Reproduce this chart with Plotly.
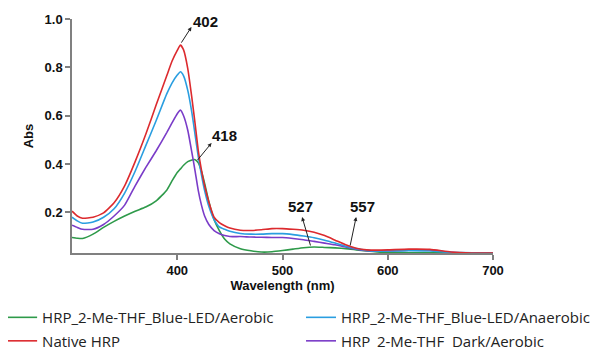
import plotly.graph_objects as go

wavelength = [300, 305, 310, 320, 330, 340, 350, 360, 370, 380, 390, 395, 400, 403, 406, 410,
              414, 417, 420, 423, 426, 430, 435, 440, 445, 450, 460, 470, 480, 490, 500, 510,
              520, 530, 540, 550, 560, 570, 580, 590, 600, 620, 640, 660, 680, 700]

native_hrp = [0.205, 0.185, 0.176, 0.18, 0.198, 0.24, 0.31, 0.41, 0.522, 0.645, 0.765, 0.825,
              0.87, 0.892, 0.872, 0.795, 0.67, 0.565, 0.455, 0.375, 0.31, 0.243, 0.18, 0.158,
              0.145, 0.135, 0.126, 0.125, 0.128, 0.133, 0.133, 0.13, 0.126, 0.118, 0.104, 0.085,
              0.066, 0.052, 0.045, 0.044, 0.045, 0.048, 0.047, 0.036, 0.032, 0.032]

blue_anaerobic = [0.18, 0.165, 0.155, 0.16, 0.18, 0.215, 0.28, 0.37, 0.475, 0.58, 0.69, 0.735,
                  0.768, 0.782, 0.765, 0.705, 0.61, 0.52, 0.43, 0.355, 0.29, 0.225, 0.17, 0.14,
                  0.13, 0.122, 0.113, 0.11, 0.11, 0.112, 0.112, 0.108, 0.102, 0.095, 0.085, 0.073,
                  0.06, 0.05, 0.043, 0.04, 0.04, 0.042, 0.04, 0.035, 0.033, 0.032]

dark_aerobic = [0.147, 0.138, 0.13, 0.13, 0.15, 0.185, 0.23, 0.31, 0.385, 0.455, 0.53, 0.57,
                0.608, 0.623, 0.6, 0.54, 0.445, 0.37, 0.29, 0.23, 0.185, 0.15, 0.125, 0.112,
                0.104, 0.1, 0.1, 0.098, 0.097, 0.096, 0.096, 0.092, 0.087, 0.08, 0.073, 0.066,
                0.057, 0.048, 0.042, 0.04, 0.04, 0.044, 0.044, 0.035, 0.032, 0.032]

blue_aerobic = [0.096, 0.093, 0.092, 0.11, 0.138, 0.163, 0.185, 0.205, 0.222, 0.248, 0.292, 0.33,
                0.365, 0.38, 0.395, 0.41, 0.417, 0.418, 0.405, 0.37, 0.32, 0.245, 0.17, 0.125,
                0.09, 0.07, 0.05, 0.041, 0.036, 0.037, 0.042, 0.048, 0.054, 0.057, 0.055, 0.053,
                0.05, 0.045, 0.04, 0.036, 0.034, 0.033, 0.033, 0.032, 0.032, 0.032]

x_ticks = [400, 500, 600, 700]
y_ticks = [0.2, 0.4, 0.6, 0.8, 1.0]
y_tick_labels = ["0.2", "0.4", "0.6", "0.8", "1.0"]

# peak labels: text, arrow tail (x, y), arrow head (x, y), text position (x, y)
peak_labels = ["402", "418", "527", "557"]
arrow_tail = [(403, 0.896), (418, 0.41), (527, 0.057), (564, 0.057)]
arrow_head = [(413.5, 0.967), (432.6, 0.487), (518.6, 0.181), (570, 0.181)]
label_pos = [(426.4, 0.99), (445, 0.52), (517.5, 0.226), (575.8, 0.226)]

# name, values, colour, legend column, rank
series = [
    ("HRP_2-Me-THF_Blue-LED/Aerobic", blue_aerobic, "#2e9a4a", "legend", 1),
    ("HRP_2-Me-THF  Dark/Aerobic", dark_aerobic, "#7a3cc8", "legend2", 2),
    ("HRP_2-Me-THF_Blue-LED/Anaerobic", blue_anaerobic, "#2a9ee0", "legend2", 1),
    ("Native HRP", native_hrp, "#dc2a2e", "legend", 2),
]

fig = go.Figure()
for name, vals, color, leg, rank in series:
    fig.add_trace(go.Scatter(
        x=wavelength, y=vals, name=name, mode="lines",
        line=dict(color=color, width=1.6, shape="spline", smoothing=0.5),
        legend=leg, legendrank=rank, legendgroup=name,
    ))

for txt, (tx, ty), (hx, hy), (lx, ly) in zip(peak_labels, arrow_tail, arrow_head, label_pos):
    fig.add_annotation(x=hx, y=hy, ax=tx, ay=ty, xref="x", yref="y", axref="x", ayref="y",
                       text="", showarrow=True, arrowhead=2, arrowsize=0.8, arrowwidth=1,
                       arrowcolor="#222222", standoff=0, startstandoff=0)
    fig.add_annotation(x=lx, y=ly, xref="x", yref="y", text=txt, showarrow=False,
                       font=dict(family="Arial", size=15, color="#111111", weight="bold"))

tick_font = dict(family="Arial", size=13, color="#111111", weight="bold")
title_font = dict(family="Arial", size=13, color="#111111", weight="bold")
legend_font = dict(family="Open Sans", size=15, color="#222222")
legend_common = dict(orientation="v", xref="paper", yref="container", y=0.138,
                     xanchor="left", yanchor="top", font=legend_font,
                     bgcolor="rgba(0,0,0,0)", tracegroupgap=1)

fig.update_layout(
    width=590, height=340,
    margin=dict(l=64, r=105, t=11, b=95, autoexpand=False),
    paper_bgcolor="white", plot_bgcolor="white",
    showlegend=True,
    legend=dict(x=-0.166, **legend_common),
    legend2=dict(x=0.544, **legend_common),
    xaxis=dict(range=[300, 700], tickvals=x_ticks, showline=True, linecolor="#808080",
               linewidth=1.5, ticks="outside", ticklen=5, tickcolor="#808080", tickwidth=1.5,
               showgrid=False, zeroline=False, tickfont=tick_font,
               title=dict(text="Wavelength (nm)", font=title_font, standoff=3)),
    yaxis=dict(range=[0.032, 1.0], tickvals=y_ticks, ticktext=y_tick_labels, showline=True,
               linecolor="#808080", linewidth=1.5, ticks="outside", ticklen=5,
               tickcolor="#808080", tickwidth=1.5, showgrid=False, zeroline=False,
               tickfont=tick_font,
               title=dict(text="Abs", font=title_font, standoff=8)),
)

fig.write_html("out.html")
